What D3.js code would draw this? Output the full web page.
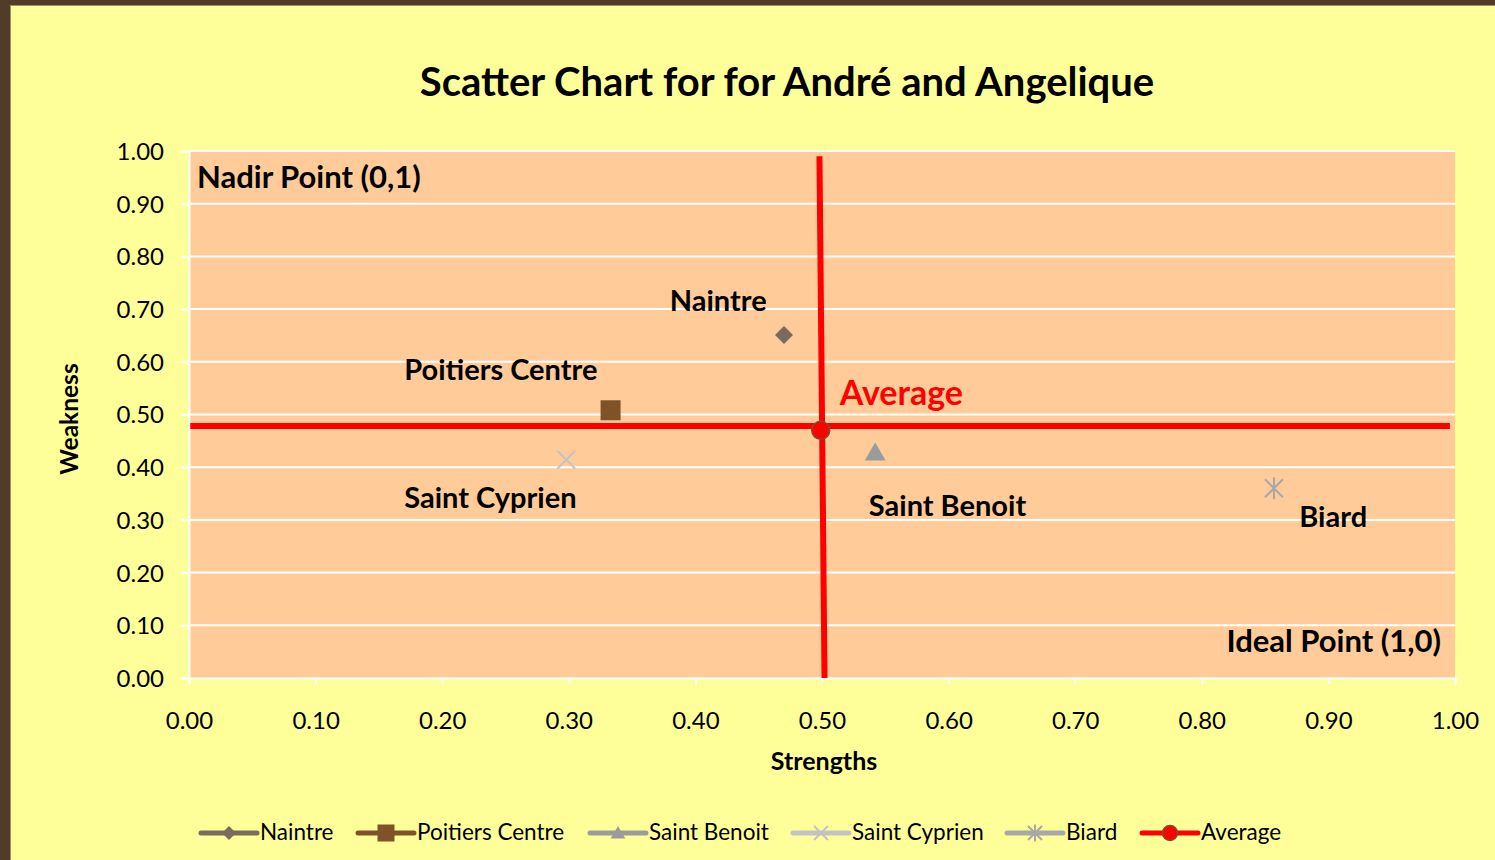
<!DOCTYPE html>
<html><head><meta charset="utf-8">
<script src="https://cdn.jsdelivr.net/npm/d3@7"></script>
<style>html,body{margin:0;padding:0;background:#503c28;overflow:hidden}</style>
</head><body>
<svg id="c" width="1495" height="860"></svg>
<script>
const seriesNames = ["Naintre","Poitiers Centre","Saint Benoit","Saint Cyprien","Biard","Average"];
const strengths = [0.47, 0.333, 0.542, 0.298, 0.857, 0.499];
const weakness  = [0.651, 0.508, 0.428, 0.414, 0.360, 0.470];
const seriesColors = ["#7b6b5f","#7f5228","#9b9b9b","#c3c3c3","#a8a8a8","#ff0000"];
const markerShapes = ["diamond","square","triangle","x","star","circle"];
const avgHLine = [[0.001,0.478],[0.996,0.478]];
const avgVLine = [[0.498,0.990],[0.502,0.0]];
const tickValues = [0,0.1,0.2,0.3,0.4,0.5,0.6,0.7,0.8,0.9,1.0];
const pointLabels = [
  {text:"Naintre", x:0.418, y:0.710, anchor:"middle"},
  {text:"Poitiers Centre", x:0.170, y:0.580, anchor:"start"},
  {text:"Saint Cyprien", x:0.170, y:0.336, anchor:"start"},
  {text:"Saint Benoit", x:0.537, y:0.322, anchor:"start"},
  {text:"Biard", x:0.877, y:0.301, anchor:"start"}
];
const cornerLabels = [
  {text:"Nadir Point (0,1)", x:0.0063, y:0.945, anchor:"start"},
  {text:"Ideal Point (1,0)", x:0.989, y:0.065, anchor:"end"}
];

const svg = d3.select("#c");
const F = "Lato, 'Open Sans', sans-serif";
svg.append("rect").attr("x",0).attr("y",0).attr("width",1495).attr("height",860).attr("fill","#503c28");
svg.append("rect").attr("x",10).attr("y",5).attr("width",1485).attr("height",855).attr("fill","#9c9070");
svg.append("rect").attr("x",11).attr("y",6).attr("width",1484).attr("height",854).attr("fill","#ffff99");

const L=189, R=1455, T=151, B=678;
const x = d3.scaleLinear().domain([0,1]).range([L,R]);
const y = d3.scaleLinear().domain([0,1]).range([B,T]);

svg.append("rect").attr("x",L).attr("y",T).attr("width",R-L).attr("height",B-T).attr("fill","#ffcc99");
svg.append("g").selectAll("line").data(tickValues.slice(1)).join("line")
  .attr("x1",L).attr("x2",R).attr("y1",d=>y(d)).attr("y2",d=>y(d))
  .attr("stroke","#ffffff").attr("stroke-width",2);

const xAxis = svg.append("g").attr("transform",`translate(0,${B})`)
  .call(d3.axisBottom(x).tickValues(tickValues).tickFormat(d3.format(".2f")).tickSize(6).tickPadding(28));
const yAxis = svg.append("g").attr("transform",`translate(${L},0)`)
  .call(d3.axisLeft(y).tickValues(tickValues).tickFormat(d3.format(".2f")).tickSize(8).tickPadding(17));
[xAxis,yAxis].forEach(a=>{
  a.selectAll("path,line").attr("stroke","#ffffff").attr("stroke-width",2);
  a.selectAll("text").attr("fill","#000").style("font-family",F).style("font-size","24px");
});
yAxis.selectAll("text").attr("dy","0.35em");

const line = d3.line().x(d=>x(d[0])).y(d=>y(d[1]));
[avgHLine, avgVLine].forEach(p=>{
  svg.append("path").attr("d",line(p)).attr("stroke","#ff0000").attr("stroke-width",6).attr("fill","none");
});

function marker(g, shape, color, size, stroke){
  if(shape==="diamond") g.append("path").attr("d",`M0,${-size}L${size},0L0,${size}L${-size},0Z`).attr("fill",color);
  else if(shape==="square") g.append("rect").attr("x",-size).attr("y",-size).attr("width",2*size).attr("height",2*size).attr("fill",color);
  else if(shape==="triangle") g.append("path").attr("d",`M0,${-size}L${size*1.05},${size*0.8}L${-size*1.05},${size*0.8}Z`).attr("fill",color);
  else if(shape==="x") g.append("path").attr("d",`M${-size},${-size}L${size},${size}M${size},${-size}L${-size},${size}`).attr("stroke",color).attr("stroke-width",2);
  else if(shape==="star") g.append("path").attr("d",`M${-size},${-size}L${size},${size}M${size},${-size}L${-size},${size}M0,${-size*1.2}L0,${size*1.2}`).attr("stroke",color).attr("stroke-width",2);
  else if(shape==="circle") g.append("circle").attr("r",size).attr("fill",color).attr("stroke",stroke||"none").attr("stroke-width",1.5);
}
const markerSizes = [9,10,10,9,9,9];
seriesNames.forEach((n,i)=>{
  const g = svg.append("g").attr("transform",`translate(${x(strengths[i])},${y(weakness[i])})`);
  marker(g, markerShapes[i], seriesColors[i], markerSizes[i], "#7f4f28");
});

pointLabels.forEach(d=>{
  svg.append("text").attr("x",x(d.x)).attr("y",y(d.y)).attr("text-anchor",d.anchor)
    .attr("dominant-baseline","middle").style("font-family",F).style("font-weight","bold")
    .style("font-size","29px").attr("fill","#000").text(d.text);
});
cornerLabels.forEach(d=>{
  svg.append("text").attr("x",x(d.x)).attr("y",y(d.y)).attr("text-anchor",d.anchor)
    .attr("dominant-baseline","middle").style("font-family",F).style("font-weight","bold")
    .style("font-size","31px").attr("fill","#000").text(d.text);
});
svg.append("text").attr("x",x(0.514)).attr("y",y(0.535)).attr("dominant-baseline","middle")
  .style("font-family",F).style("font-weight","bold").style("font-size","34px").attr("fill","#ff0000").text("Average");

svg.append("text").attr("x",787).attr("y",96).attr("text-anchor","middle")
  .style("font-family",F).style("font-weight","bold").style("font-size","40px").text("Scatter Chart for for André and Angelique");
svg.append("text").attr("x",824).attr("y",770).attr("text-anchor","middle")
  .style("font-family",F).style("font-weight","bold").style("font-size","25px").text("Strengths");
svg.append("text").attr("transform","translate(78,419) rotate(-90)").attr("text-anchor","middle")
  .style("font-family",F).style("font-weight","bold").style("font-size","24.5px").text("Weakness");

const legendX = [201,358,590,793,1007,1142];
const legendY = 833;
seriesNames.forEach((n,i)=>{
  const g = svg.append("g").attr("transform",`translate(${legendX[i]},${legendY})`);
  g.append("line").attr("x1",0).attr("x2",56).attr("stroke",seriesColors[i]).attr("stroke-width",5).attr("stroke-linecap","round");
  const mg = g.append("g").attr("transform","translate(28,0)");
  marker(mg, markerShapes[i], seriesColors[i], i===5?7.5:(i===1?8.5:7), "#7f4f28");
  g.append("text").attr("x",59).attr("y",1).attr("dominant-baseline","middle")
    .style("font-family",F).style("font-size","22.5px").attr("fill","#000").text(n);
});
</script>
</body></html>
